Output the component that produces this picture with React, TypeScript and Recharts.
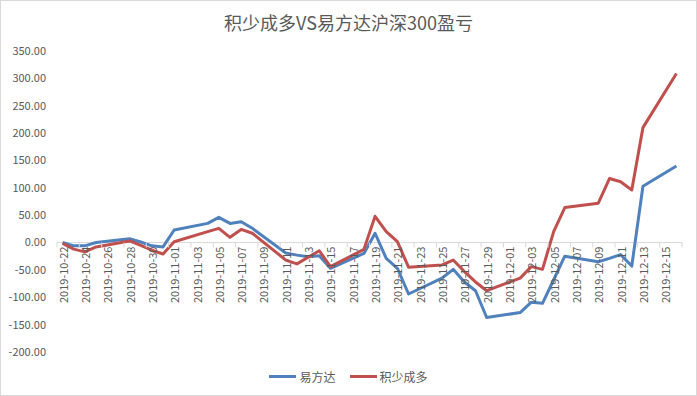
import React from "react";
import { LineChart, Line, XAxis, YAxis, ReferenceLine, Legend } from "recharts";

// 交易日
const dates = [
  "2019-10-22", "2019-10-23", "2019-10-24", "2019-10-25", "2019-10-28", "2019-10-29", "2019-10-30", "2019-10-31",
  "2019-11-01", "2019-11-04", "2019-11-05", "2019-11-06", "2019-11-07", "2019-11-08",
  "2019-11-11", "2019-11-12", "2019-11-13", "2019-11-14", "2019-11-15",
  "2019-11-18", "2019-11-19", "2019-11-20", "2019-11-21", "2019-11-22",
  "2019-11-25", "2019-11-26", "2019-11-27", "2019-11-28", "2019-11-29",
  "2019-12-02", "2019-12-03", "2019-12-04", "2019-12-05", "2019-12-06",
  "2019-12-09", "2019-12-10", "2019-12-11", "2019-12-12", "2019-12-13", "2019-12-16",
];

// 易方达沪深300
const efund = [
  0, -6, -6, 0, 7, 1, -6, -8,
  23, 35, 46, 35, 38, 26,
  -19, -23, -26, -24, -47,
  -20, 17, -29, -47, -94,
  -65, -49, -72, -88, -137,
  -128, -109, -111, -68, -25,
  -35, -29, -22, -43, 103, 140,
];

// 积少成多
const jishao = [
  -1.5, -12, -17, -8, 3, -5, -14, -21,
  1.5, 20, 26, 9.5, 24, 17,
  -32, -39, -27, -15, -44,
  -12.5, 48, 20, 1.5, -45,
  -41, -32, -53, -72, -88,
  -65, -44, -49, 20, 64,
  72, 117, 111, 96, 210, 309,
];

const tickDates = [
  "2019-10-22", "2019-10-24", "2019-10-26", "2019-10-28", "2019-10-30",
  "2019-11-01", "2019-11-03", "2019-11-05", "2019-11-07", "2019-11-09",
  "2019-11-11", "2019-11-13", "2019-11-15", "2019-11-17", "2019-11-19",
  "2019-11-21", "2019-11-23", "2019-11-25", "2019-11-27", "2019-11-29",
  "2019-12-01", "2019-12-03", "2019-12-05", "2019-12-07", "2019-12-09",
  "2019-12-11", "2019-12-13", "2019-12-15",
];

const yTicks = [-200, -150, -100, -50, 0, 50, 100, 150, 200, 250, 300, 350];

const DAY = 86400000;
const start = Date.parse(dates[0]);
const toDay = (d: string) => Math.round((Date.parse(d) - start) / DAY);
const dayLabel = (n: number) => new Date(start + n * DAY).toISOString().slice(0, 10);

const data = dates.map((d, i) => ({ day: toDay(d), 易方达: efund[i], 积少成多: jishao[i] }));
const xTicks = tickDates.map(toDay);
const lastDay = toDay(dates[dates.length - 1]);

const W = 697;
const H = 396;
const PLOT_LEFT = 57;
const PLOT_RIGHT = 682;
const PLOT_TOP = 51;
const PLOT_BOTTOM = 352;
const X_AXIS_H = 30;
const ZERO_Y = PLOT_TOP + ((PLOT_BOTTOM - PLOT_TOP) * 350) / 550;
const DAY_PX = (PLOT_RIGHT - PLOT_LEFT) / (lastDay + 1);

const FONT = "'Noto Sans CJK SC', 'Noto Sans', sans-serif";
const TEXT = "#595959";
const AXIS = "#d9d9d9";
const BLUE = "#4F81BD";
const RED = "#C0504D";

function DateTick(props: any) {
  const { x, payload, index } = props;
  const tx = x - DAY_PX / 2;
  const isLast = index === xTicks.length - 1;
  return (
    <g>
      <line x1={tx} x2={tx} y1={ZERO_Y} y2={ZERO_Y + 5} stroke={AXIS} />
      {isLast && (
        <line x1={tx + 2 * DAY_PX} x2={tx + 2 * DAY_PX} y1={ZERO_Y} y2={ZERO_Y + 5} stroke={AXIS} />
      )}
      <text
        transform={`translate(${x},${ZERO_Y + 4}) rotate(-90)`}
        textAnchor="end"
        dominantBaseline="central"
        fontSize={11}
        fill={TEXT}
        fontFamily={FONT}
      >
        {dayLabel(payload.value)}
      </text>
    </g>
  );
}

function LegendBox() {
  const items = [
    { name: "易方达", color: BLUE },
    { name: "积少成多", color: RED },
  ];
  return (
    <div style={{ display: "flex", justifyContent: "center", alignItems: "center", fontFamily: FONT, fontSize: 12, color: TEXT }}>
      {items.map((it) => (
        <div key={it.name} style={{ display: "flex", alignItems: "center", margin: "0 7px" }}>
          <span style={{ display: "inline-block", width: 27, height: 3, background: it.color, marginRight: 3 }} />
          <span>{it.name}</span>
        </div>
      ))}
    </div>
  );
}

export default function App() {
  return (
    <div style={{ position: "fixed", left: 0, top: 0, width: W, height: H, background: "#fff" }}>
      <div
        style={{
          position: "absolute", left: 0, top: 8, width: W, textAlign: "center",
          fontFamily: FONT, fontSize: 18, color: TEXT, lineHeight: "28px",
        }}
      >
        积少成多VS易方达沪深300盈亏
      </div>
      <LineChart
        width={W}
        height={H}
        data={data}
        margin={{ top: PLOT_TOP, right: W - PLOT_RIGHT, bottom: H - PLOT_BOTTOM - X_AXIS_H, left: 0 }}
      >
        <XAxis
          dataKey="day"
          type="number"
          domain={[-0.5, lastDay + 0.5]}
          ticks={xTicks}
          interval={0}
          axisLine={false}
          tickLine={false}
          height={X_AXIS_H}
          tick={(p: any) => <DateTick {...p} />}
        />
        <YAxis
          domain={[-200, 350]}
          ticks={yTicks}
          interval={0}
          width={PLOT_LEFT}
          axisLine={false}
          tickLine={false}
          tickMargin={5}
          tickFormatter={(v: number) => v.toFixed(2)}
          tick={{ fontSize: 11, fill: TEXT, fontFamily: FONT }}
        />
        <ReferenceLine y={0} stroke={AXIS} strokeWidth={1} />
        <Line type="linear" dataKey="易方达" stroke={BLUE} strokeWidth={3} dot={false} isAnimationActive={false} strokeLinejoin="round" />
        <Line type="linear" dataKey="积少成多" stroke={RED} strokeWidth={3} dot={false} isAnimationActive={false} strokeLinejoin="round" />
        <Legend
          verticalAlign="middle"
          align="center"
          content={<LegendBox />}
          wrapperStyle={{ top: 368, left: 0, width: W, height: 18 }}
        />
      </LineChart>
      <div style={{ position: "absolute", left: 0, top: 0, width: W, height: H, boxSizing: "border-box", border: `1px solid ${AXIS}`, pointerEvents: "none" }} />
    </div>
  );
}
